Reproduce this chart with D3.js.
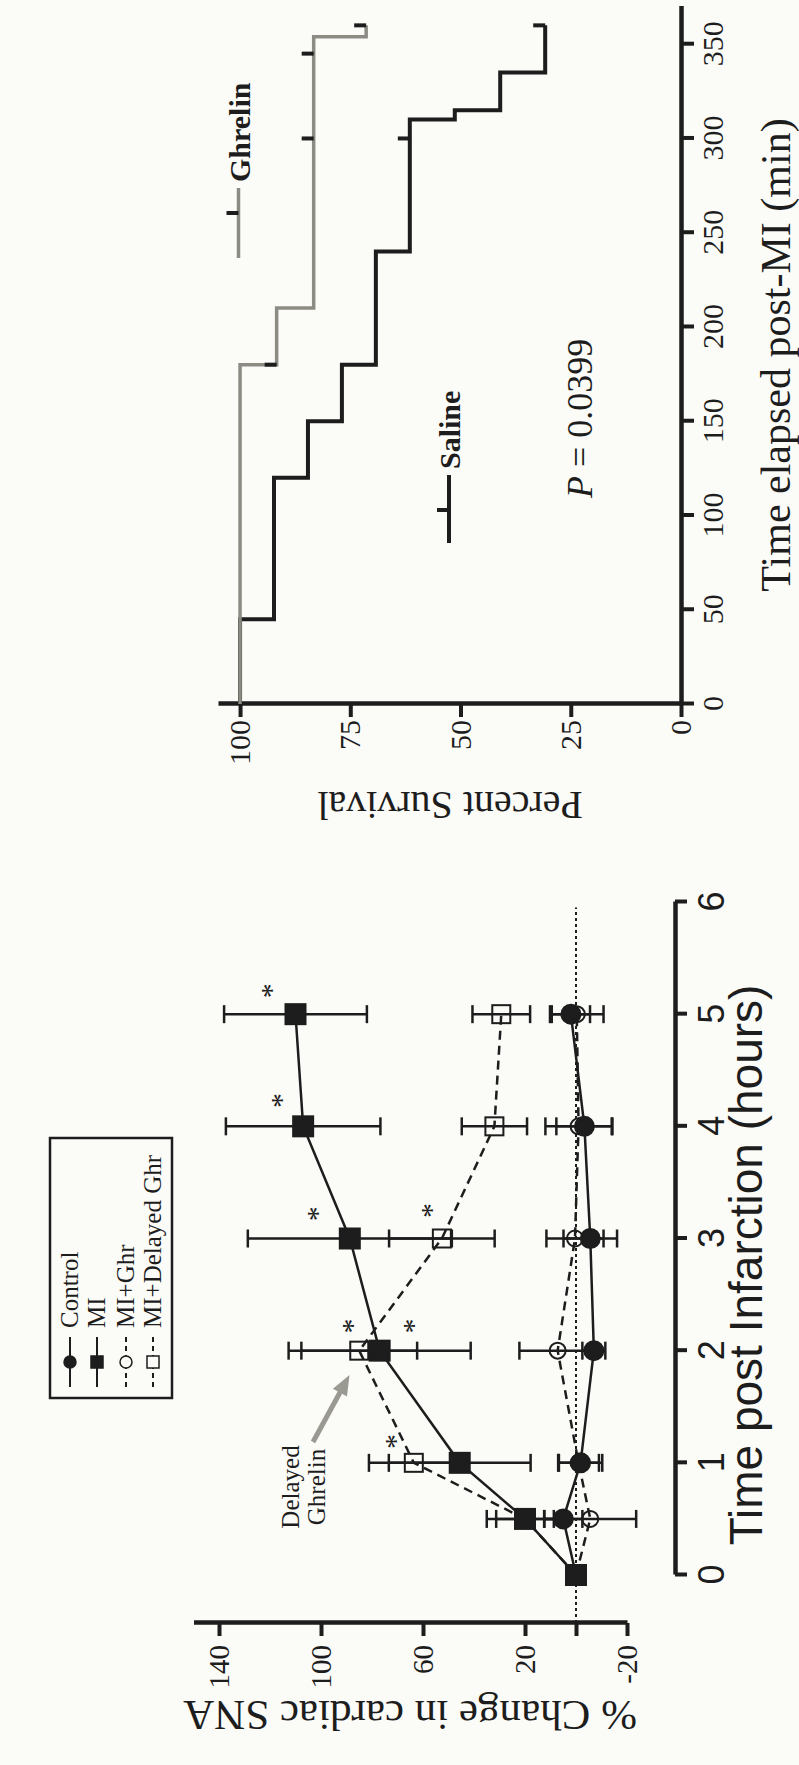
<!DOCTYPE html>
<html>
<head>
<meta charset="utf-8">
<script src="https://cdn.jsdelivr.net/npm/d3@7"></script>
<style>
body { margin: 0; background: #fbfbf8; }
svg { display: block; }
</style>
</head>
<body>
<div id="figure"></div>
<script>
// ---- SNA data (hours post infarction, % change, +/- error) ----
var hours = [0, 0.5, 1, 2, 3, 4, 5];
var controlMean = [0, 5, -1.8, -7, -5.6, -3.3, 2];
var controlErr = [0, 7.5, 8.5, 4.5, 10.5, 11, 7.5];
var miMean = [0, 20, 45.6, 77, 88.7, 107, 110];
var miErr = [0, 11.3, 27.8, 35.7, 40, 30.3, 28];
var ghrMean = [0, -5.6, -1, 7.2, 0.4, -1, -0.3];
var ghrErr = [0, 18, 8, 15, 11.2, 13, 10.5];
var delayedMean = [0, 20, 63.6, 85, 52.6, 32, 29.3];
var delayedErr = [0, 15, 17.6, 22.7, 20.7, 12.8, 11.3];
var starHours = [1.19, 2.22, 2.22, 3.22, 3.25, 4.23, 5.21];
var starValues = [73, 90, 66, 103.5, 59, 117.7, 121.5];
var hourTicks = [0, 1, 2, 3, 4, 5, 6];
var snaTicks = [-20, 0, 20, 60, 100, 140];

// ---- survival data (min post-MI, percent) ----
var ghrelinTimes = [0, 180, 210, 354, 360];
var ghrelinSurvival = [100, 91.7, 83.3, 71.4, 71.4];
var ghrelinCensored = [180, 300, 345, 360];
var salineTimes = [0, 45, 120, 150, 180, 240, 310, 315, 335, 360];
var salineSurvival = [100, 92.3, 84.6, 76.9, 69.2, 61.5, 51.3, 41.0, 30.8, 30.8];
var salineCensored = [300, 360];
var minuteTicks = [0, 50, 100, 150, 200, 250, 300, 350];
var survivalTicks = [0, 25, 50, 75, 100];

var serif = "'Liberation Serif', 'Times New Roman', serif";
var sans = "'Liberation Sans', Arial, sans-serif";
var ink = "#1d1d1d";
var grey = "#8d8c84";

// the printed figure is turned a quarter turn, so draw upright and rotate
var svg = d3.select("#figure").append("svg")
    .attr("width", 799)
    .attr("height", 1765);
var fig = svg.append("g")
    .attr("transform", "translate(0,1765) rotate(-90)");

//Scales
var xHour = d3.scaleLinear().domain([0, 6]).range([190, 863]);
var ySna = d3.scaleLinear().domain([-20, 150]).range([627, 193.5]);
var xMin = d3.scaleLinear().domain([0, 370]).range([1061, 1758.5]);
var yPct = d3.scaleLinear().domain([0, 105]).range([681, 218]);

function styleAxis(g, font, size) {
    g.select(".domain").attr("stroke", ink).attr("stroke-width", 4.5);
    g.selectAll(".tick line").attr("stroke", ink).attr("stroke-width", 4);
    g.selectAll(".tick text")
        .attr("fill", ink)
        .style("font-family", font)
        .style("font-size", size + "px");
}

// ================= SNA panel =================
fig.append("g")
    .attr("transform", "translate(0,675)")
    .call(d3.axisBottom(xHour).tickValues(hourTicks).tickFormat(d3.format("d"))
        .tickSize(12).tickSizeOuter(0).tickPadding(11))
    .call(styleAxis, sans, 36);

fig.append("g")
    .attr("transform", "translate(142,0)")
    .call(d3.axisLeft(ySna).tickValues(snaTicks).tickSize(13).tickSizeOuter(0).tickPadding(9)
        .tickFormat(function(d) { return d === 0 ? "" : String(d); }))
    .call(styleAxis, serif, 29);

fig.append("text")
    .attr("x", 500).attr("y", 762)
    .attr("text-anchor", "middle")
    .style("font-family", sans).style("font-size", "46px")
    .attr("fill", ink)
    .text("Time post Infarction (hours)");

fig.append("text")
    .attr("transform", "translate(64,410) rotate(-90)")
    .attr("text-anchor", "middle")
    .style("font-family", serif).style("font-size", "43px")
    .attr("fill", ink)
    .text("% Change in cardiac SNA");

// zero reference line
fig.append("line")
    .attr("x1", 142).attr("x2", xHour(5.95))
    .attr("y1", ySna(0)).attr("y2", ySna(0))
    .attr("stroke", ink).attr("stroke-width", 2)
    .attr("stroke-dasharray", "3,3");

var snaSeries = [
    {name: "MI+Ghr", mean: ghrMean, err: ghrErr, dash: "9,6", shape: "circle", filled: false},
    {name: "MI+Delayed Ghr", mean: delayedMean, err: delayedErr, dash: "9,6", shape: "square", filled: false},
    {name: "Control", mean: controlMean, err: controlErr, dash: null, shape: "circle", filled: true},
    {name: "MI", mean: miMean, err: miErr, dash: null, shape: "square", filled: true}
];

var snaLine = d3.line()
    .x(function(d) { return xHour(d[0]); })
    .y(function(d) { return ySna(d[1]); });

snaSeries.forEach(function(s) {
    fig.append("path")
        .datum(hours.map(function(h, i) { return [h, s.mean[i]]; }))
        .attr("d", snaLine)
        .attr("fill", "none")
        .attr("stroke", ink)
        .attr("stroke-width", 2.5)
        .attr("stroke-dasharray", s.dash);
});

// error bars
snaSeries.forEach(function(s) {
    var bars = fig.append("g").attr("stroke", ink).attr("stroke-width", 2.5);
    hours.forEach(function(h, i) {
        if (!s.err[i]) return;
        var x = xHour(h);
        var hi = ySna(s.mean[i] + s.err[i]);
        var lo = ySna(s.mean[i] - s.err[i]);
        bars.append("line").attr("x1", x).attr("x2", x).attr("y1", hi).attr("y2", lo);
        bars.append("line").attr("x1", x - 9).attr("x2", x + 9).attr("y1", hi).attr("y2", hi);
        bars.append("line").attr("x1", x - 9).attr("x2", x + 9).attr("y1", lo).attr("y2", lo);
    });
});

function drawMarker(g, shape, filled, x, y) {
    if (shape === "circle") {
        g.append("circle")
            .attr("cx", x).attr("cy", y)
            .attr("r", filled ? 9.5 : 8)
            .attr("fill", filled ? ink : "none")
            .attr("stroke", ink).attr("stroke-width", 2);
    } else {
        var s = filled ? 20 : 18;
        g.append("rect")
            .attr("x", x - s / 2).attr("y", y - s / 2)
            .attr("width", s).attr("height", s)
            .attr("fill", filled ? ink : "none")
            .attr("stroke", ink).attr("stroke-width", 2);
    }
}

// open markers first, filled ones on top
snaSeries.filter(function(s) { return !s.filled; })
    .concat(snaSeries.filter(function(s) { return s.filled; }))
    .forEach(function(s) {
        var g = fig.append("g");
        hours.forEach(function(h, i) {
            drawMarker(g, s.shape, s.filled, xHour(h), ySna(s.mean[i]));
        });
    });

// significance marks
fig.append("g").selectAll("text")
    .data(starHours)
    .enter()
    .append("text")
    .attr("x", function(d) { return xHour(d); })
    .attr("y", function(d, i) { return ySna(starValues[i]) + 15; })
    .attr("text-anchor", "middle")
    .style("font-family", serif).style("font-size", "30px")
    .attr("fill", ink)
    .text("*");

// "Delayed Ghrelin" note with arrow
var note = fig.append("g")
    .attr("fill", ink)
    .style("font-family", serif).style("font-size", "25px")
    .attr("text-anchor", "middle");
note.append("text").attr("x", 278).attr("y", 299).text("Delayed");
note.append("text").attr("x", 278).attr("y", 325).text("Ghrelin");

var ax0 = 323, ay0 = 313, ax1 = 390, ay1 = 349.5;
var len = Math.hypot(ax1 - ax0, ay1 - ay0);
var ux = (ax1 - ax0) / len, uy = (ay1 - ay0) / len;
fig.append("line")
    .attr("x1", ax0).attr("y1", ay0)
    .attr("x2", ax1 - ux * 16).attr("y2", ay1 - uy * 16)
    .attr("stroke", "#9b9a92").attr("stroke-width", 5);
fig.append("polygon")
    .attr("points", [
        [ax1, ay1],
        [ax1 - ux * 20 - uy * 8, ay1 - uy * 20 + ux * 8],
        [ax1 - ux * 20 + uy * 8, ay1 - uy * 20 - ux * 8]
    ].map(function(p) { return p.join(","); }).join(" "))
    .attr("fill", "#9b9a92");

// legend box
var legendNames = ["Control", "MI", "MI+Ghr", "MI+Delayed Ghr"];
var legendRows = [70, 97, 126, 153];
var legendKey = [snaSeries[2], snaSeries[3], snaSeries[0], snaSeries[1]];
var legend = fig.append("g");
legend.append("rect")
    .attr("x", 367).attr("y", 50)
    .attr("width", 260).attr("height", 122)
    .attr("fill", "none")
    .attr("stroke", ink).attr("stroke-width", 2.5);
legendNames.forEach(function(name, i) {
    var s = legendKey[i];
    var y = legendRows[i];
    legend.append("line")
        .attr("x1", 378).attr("x2", 428).attr("y1", y).attr("y2", y)
        .attr("stroke", ink).attr("stroke-width", 2)
        .attr("stroke-dasharray", s.dash ? "5,4" : null);
    if (s.shape === "circle") {
        legend.append("circle").attr("cx", 403).attr("cy", y).attr("r", 6)
            .attr("fill", s.filled ? ink : "#fbfbf8").attr("stroke", ink).attr("stroke-width", 1.5);
    } else {
        legend.append("rect").attr("x", 397).attr("y", y - 6).attr("width", 12).attr("height", 12)
            .attr("fill", s.filled ? ink : "#fbfbf8").attr("stroke", ink).attr("stroke-width", 1.5);
    }
    legend.append("text")
        .attr("x", 437).attr("y", y + 8)
        .style("font-family", serif).style("font-size", "25px")
        .attr("fill", ink)
        .text(name);
});

// ================= survival panel =================
fig.append("g")
    .attr("transform", "translate(0,681)")
    .call(d3.axisBottom(xMin).tickValues(minuteTicks).tickSize(13).tickSizeOuter(0).tickPadding(8))
    .call(styleAxis, serif, 30);

fig.append("g")
    .attr("transform", "translate(1061,0)")
    .call(d3.axisLeft(yPct).tickValues(survivalTicks).tickSize(13).tickSizeOuter(0).tickPadding(3))
    .call(styleAxis, serif, 30);

fig.append("text")
    .attr("x", 1410).attr("y", 790)
    .attr("text-anchor", "middle")
    .style("font-family", serif).style("font-size", "42px")
    .attr("fill", ink)
    .text("Time elapsed post-MI (min)");

fig.append("text")
    .attr("transform", "translate(973,450) rotate(-90)")
    .attr("text-anchor", "middle")
    .style("font-family", serif).style("font-size", "40px")
    .attr("fill", ink)
    .text("Percent Survival");

var stepLine = d3.line()
    .x(function(d) { return xMin(d[0]); })
    .y(function(d) { return yPct(d[1]); })
    .curve(d3.curveStepAfter);

function survivalAt(times, surv, t) {
    var k = 0;
    times.forEach(function(tt, i) { if (tt <= t) k = i; });
    return surv[k];
}

var curves = [
    {times: salineTimes, surv: salineSurvival, censored: salineCensored, color: ink, width: 4},
    {times: ghrelinTimes, surv: ghrelinSurvival, censored: ghrelinCensored, color: grey, width: 3.5}
];

curves.forEach(function(c) {
    fig.append("path")
        .datum(c.times.map(function(t, i) { return [t, c.surv[i]]; }))
        .attr("d", stepLine)
        .attr("fill", "none")
        .attr("stroke", c.color)
        .attr("stroke-width", c.width);
});
curves.forEach(function(c) {
    fig.append("g").selectAll("line")
        .data(c.censored)
        .enter()
        .append("line")
        .attr("x1", function(d) { return xMin(d); })
        .attr("x2", function(d) { return xMin(d); })
        .attr("y1", function(d) { return yPct(survivalAt(c.times, c.surv, d)); })
        .attr("y2", function(d) { return yPct(survivalAt(c.times, c.surv, d)) - 12; })
        .attr("stroke", ink)
        .attr("stroke-width", 4);
});

// survival legend entries
function survivalKey(x0, x1, xt, y, color, label) {
    fig.append("line").attr("x1", x0).attr("x2", x1).attr("y1", y).attr("y2", y)
        .attr("stroke", color).attr("stroke-width", color === ink ? 4 : 3.5);
    fig.append("line").attr("x1", xt).attr("x2", xt).attr("y1", y).attr("y2", y - 12)
        .attr("stroke", ink).attr("stroke-width", 4);
    fig.append("text")
        .attr("x", x1 + 6).attr("y", y + 11)
        .style("font-family", serif).style("font-size", "30px").style("font-weight", "bold")
        .attr("fill", ink)
        .text(label);
}
survivalKey(1507, 1577, 1552, 238.5, grey, "Ghrelin");
survivalKey(1222, 1290, 1255, 449, ink, "Saline");

var pText = fig.append("text")
    .attr("x", 1267).attr("y", 592)
    .style("font-family", serif).style("font-size", "36px")
    .attr("fill", ink);
pText.append("tspan").style("font-style", "italic").text("P");
pText.append("tspan").text(" = 0.0399");
</script>
</body>
</html>
